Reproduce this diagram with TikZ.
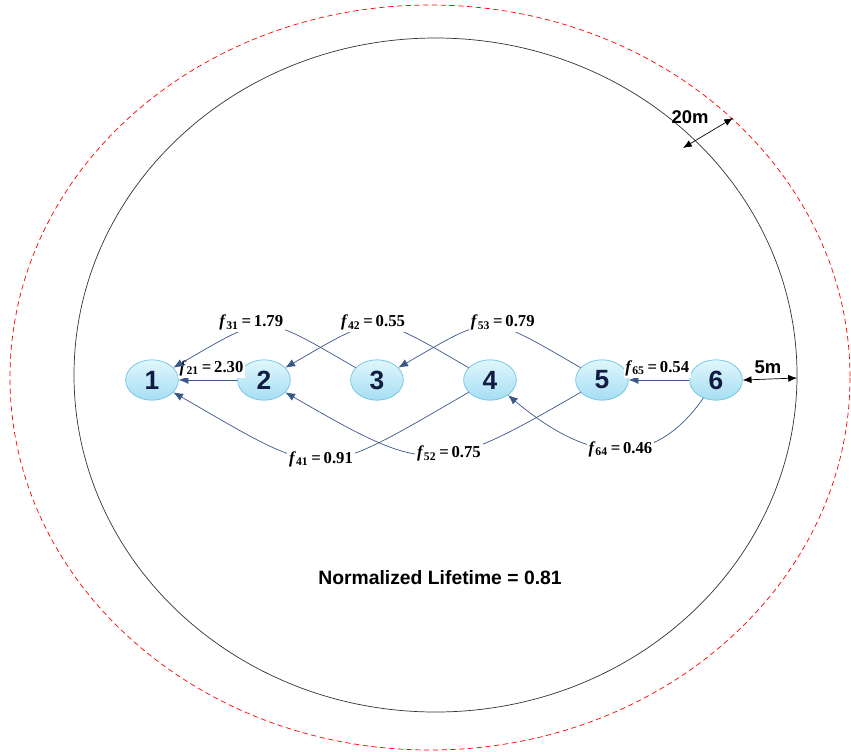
\documentclass[tikz,border=0pt]{standalone}
\usepackage{fontspec}
\setmainfont{Liberation Serif}
\setsansfont{Liberation Sans}
\usetikzlibrary{shapes.geometric,arrows.meta}
\definecolor{flowblue}{RGB}{58,88,135}
\definecolor{nodeedge}{RGB}{110,195,225}
\definecolor{nodetop}{RGB}{225,246,253}
\definecolor{nodebot}{RGB}{165,222,242}
\definecolor{digitnavy}{RGB}{18,28,66}
\newcommand{\flab}[2]{\textbf{\textit{f}\textsubscript{#1}\,=\,#2}}
\tikzset{
  sensor/.style={ellipse,draw=nodeedge,top color=nodetop,bottom color=nodebot,
    minimum width=30pt,minimum height=23pt,inner sep=0pt,
    font=\sffamily\bfseries\fontsize{15}{15}\selectfont,text=digitnavy},
  flow/.style={flowblue,-{Latex[length=5.5pt,width=4.5pt]}},
  lbl/.style={fill=white,text=black,inner sep=1pt,font=\fontsize{9.5}{10}\selectfont},
  gap/.style={black,{Latex[length=5pt,width=4pt]}-{Latex[length=5pt,width=4pt]}},
  dist/.style={font=\sffamily\bfseries\fontsize{10.5}{11}\selectfont}
}
\begin{document}
\begin{tikzpicture}[x=0.02cm,y=-0.02cm]
\useasboundingbox (0,0) rectangle (851,751);
% field and range
\draw[red,dashed,dash pattern=on 3pt off 2pt] (430,377.5) ellipse [x radius=420,y radius=372.5];
\draw[black!80] (435.5,375) ellipse [x radius=361.5,y radius=337];
% sensors
\foreach \i/\x in {1/152,2/264,3/377,4/490,5/602,6/716}
  \node[sensor] (n\i) at (\x,380) {\i};
% flows
\draw[flow] (n2) -- node[lbl,above=1pt,xshift=2pt] {\flab{21}{2.30}} (n1);
\draw[flow] (n6) -- node[lbl,above=1pt,xshift=-1pt] {\flab{65}{0.54}} (n5);
\draw[flow] (n3) to[out=150,in=30,looseness=1.55] node[lbl,pos=0.6,yshift=3pt] {\flab{31}{1.79}} (n1);
\draw[flow] (n4) to[out=150,in=30,looseness=1.55] node[lbl,pos=0.53,yshift=2pt] {\flab{42}{0.55}} (n2);
\draw[flow] (n5) to[out=150,in=30,looseness=1.55] node[lbl,pos=0.4,yshift=3pt] {\flab{53}{0.79}} (n3);
\draw[flow] (n4) to[out=210,in=-30,looseness=1.55] node[lbl,pos=0.5] {\flab{41}{0.91}} (n1);
\draw[flow] (n5) to[out=210,in=-30,looseness=1.45] node[lbl,pos=0.43] {\flab{52}{0.75}} (n2);
\draw[flow] (n6) to[out=235,in=-40,looseness=1.25] node[lbl,pos=0.46] {\flab{64}{0.46}} (n4);
% distances
\coordinate (r20a) at (683,148);
\coordinate (r20b) at (733,118);
\draw[gap] (r20a) -- (r20b);
\node[dist] (t20) at (690,117) {20m};
\coordinate (r5) at (797,378);
\draw[gap] (n6.east) -- (r5);
\node[dist] (t5) at (768,367) {5m};
\node[font=\sffamily\bfseries\fontsize{11}{12}\selectfont] (life) at (440,578) {Normalized Lifetime = 0.81};
\end{tikzpicture}
\end{document}
